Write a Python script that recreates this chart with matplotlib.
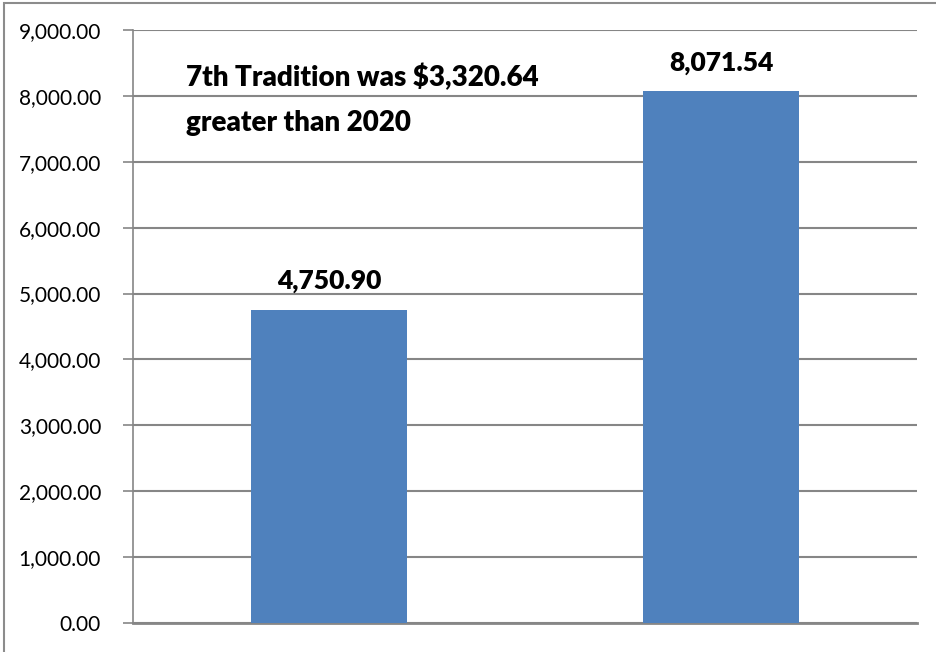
import numpy as np
import matplotlib.pyplot as plt
from matplotlib.ticker import FuncFormatter
from matplotlib.patches import Rectangle

categories = ['2020', '2021']
amounts = [4750.90, 8071.54]
bar_labels = ['4,750.90', '8,071.54']
note = '7th Tradition was $3,320.64\ngreater than 2020'

plt.rcParams['font.family'] = ['Lato', 'DejaVu Sans']

fig = plt.figure(figsize=(9.36, 6.52), dpi=100)
ax = fig.add_axes([133/936, 29/652, 784/936, 593/652])

x = np.arange(len(categories))
ax.bar(x, amounts, width=0.397, color='#4f81bd', zorder=3)

ax.set_xlim(-0.5, 1.5)
ax.set_ylim(0, 9000)
ax.set_yticks(np.arange(0, 9001, 1000))
ax.yaxis.set_major_formatter(FuncFormatter(lambda v, p: f'{v:,.2f}'))
ax.set_xticks([])
ax.grid(axis='y', color='#868686', linewidth=1.5, zorder=0)
ax.tick_params(axis='y', length=7, width=1.2, color='#868686', labelsize=15, pad=16)

for s in ['top', 'right']:
    ax.spines[s].set_visible(False)
ax.spines['left'].set_color('#868686')
ax.spines['left'].set_linewidth(1.2)
ax.spines['bottom'].set_color('#868686')
ax.spines['bottom'].set_linewidth(2)

for xi, v, lab in zip(x, amounts, bar_labels):
    ax.annotate(lab, (xi, v), xytext=(0, 12), textcoords='offset points',
                ha='center', va='bottom', fontsize=19, fontweight='heavy')

ax.text(186/936, 1 - 100/652, note, transform=fig.transFigure,
        fontsize=20, fontweight='heavy', ha='left', va='center', linespacing=1.9)

# outer chart frame (only top and left visible in the crop)
fig.patches.append(Rectangle((4/936, -0.1), 1.2, 1 - 3/652 + 0.1,
                             transform=fig.transFigure, fill=False,
                             edgecolor='#8c8c8c', linewidth=1.5))

fig.savefig('out.png', dpi=100)
